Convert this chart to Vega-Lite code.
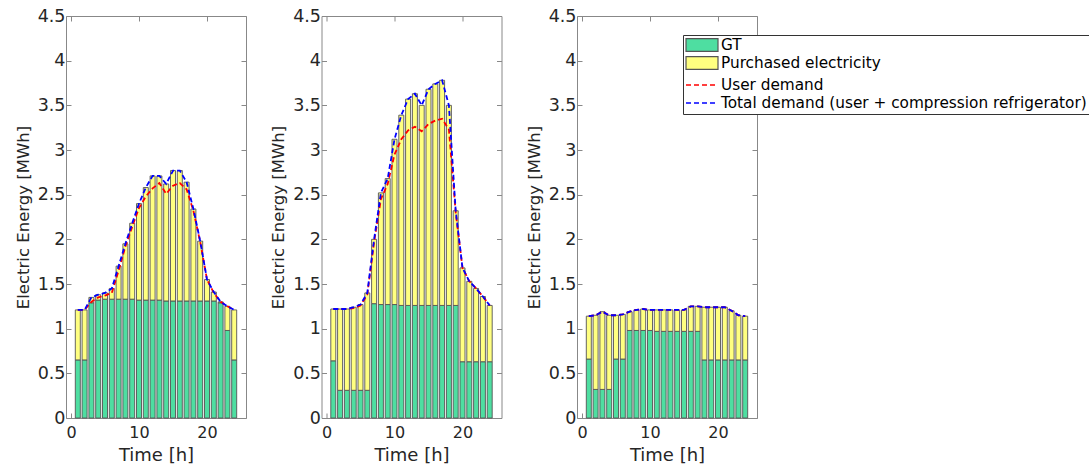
{
 "$schema": "https://vega.github.io/schema/vega-lite/v6.json",
 "padding": {"left": 14, "top": 6, "right": 0, "bottom": 0},
 "config": {
  "view": {"stroke": "#888", "strokeWidth": 1},
  "font": "DejaVu Sans",
  "axis": {"labelFont": "DejaVu Sans", "titleFont": "DejaVu Sans", "labelColor": "#262626", "titleColor": "#262626", "grid": false, "domain": false, "tickColor": "#888", "titleFontWeight": "normal", "labelFlush": false},
  "axisLeft": {"labelFontSize": 17.5, "titleFontSize": 16.5, "tickSize": -5, "labelPadding": 6, "titlePadding": 6},
  "axisBottom": {"labelFontSize": 16, "titleFontSize": 18, "tickSize": -5, "labelPadding": 11, "titlePadding": 6},
  "axisRight": {"labels": false, "tickSize": -5},
  "axisTop": {"labels": false, "tickSize": -5},
  "legend": {"orient": "none", "legendX": 617, "legendY": 19, "labelFont": "DejaVu Sans", "labelFontSize": 15.3, "labelColor": "#000", "labelLimit": 600, "symbolSize": 256, "labelOffset": 18, "padding": 2, "rowPadding": -1, "cornerRadius": 0}
 },
 "datasets": {
  "d": [
   {"p":1,"h":1,"gt":0.65,"total":1.21,"user":1.21},
   {"p":1,"h":2,"gt":0.65,"total":1.21,"user":1.21},
   {"p":1,"h":3,"gt":1.29,"total":1.35,"user":1.30},
   {"p":1,"h":4,"gt":1.32,"total":1.38,"user":1.35},
   {"p":1,"h":5,"gt":1.33,"total":1.40,"user":1.37},
   {"p":1,"h":6,"gt":1.33,"total":1.45,"user":1.40},
   {"p":1,"h":7,"gt":1.33,"total":1.70,"user":1.65},
   {"p":1,"h":8,"gt":1.33,"total":1.95,"user":1.92},
   {"p":1,"h":9,"gt":1.33,"total":2.18,"user":2.14},
   {"p":1,"h":10,"gt":1.32,"total":2.40,"user":2.35},
   {"p":1,"h":11,"gt":1.32,"total":2.58,"user":2.48},
   {"p":1,"h":12,"gt":1.32,"total":2.71,"user":2.57},
   {"p":1,"h":13,"gt":1.32,"total":2.71,"user":2.63},
   {"p":1,"h":14,"gt":1.31,"total":2.62,"user":2.51},
   {"p":1,"h":15,"gt":1.31,"total":2.77,"user":2.60},
   {"p":1,"h":16,"gt":1.31,"total":2.77,"user":2.63},
   {"p":1,"h":17,"gt":1.31,"total":2.64,"user":2.56},
   {"p":1,"h":18,"gt":1.31,"total":2.34,"user":2.32},
   {"p":1,"h":19,"gt":1.31,"total":1.98,"user":1.97},
   {"p":1,"h":20,"gt":1.31,"total":1.55,"user":1.55},
   {"p":1,"h":21,"gt":1.31,"total":1.41,"user":1.40},
   {"p":1,"h":22,"gt":1.29,"total":1.30,"user":1.30},
   {"p":1,"h":23,"gt":0.98,"total":1.25,"user":1.25},
   {"p":1,"h":24,"gt":0.65,"total":1.21,"user":1.21},
   {"p":2,"h":1,"gt":0.64,"total":1.22,"user":1.22},
   {"p":2,"h":2,"gt":0.31,"total":1.22,"user":1.22},
   {"p":2,"h":3,"gt":0.31,"total":1.22,"user":1.22},
   {"p":2,"h":4,"gt":0.31,"total":1.24,"user":1.23},
   {"p":2,"h":5,"gt":0.31,"total":1.27,"user":1.26},
   {"p":2,"h":6,"gt":0.31,"total":1.40,"user":1.38},
   {"p":2,"h":7,"gt":1.28,"total":2.00,"user":1.97},
   {"p":2,"h":8,"gt":1.27,"total":2.52,"user":2.45},
   {"p":2,"h":9,"gt":1.27,"total":2.68,"user":2.62},
   {"p":2,"h":10,"gt":1.27,"total":3.12,"user":2.95},
   {"p":2,"h":11,"gt":1.26,"total":3.39,"user":3.12},
   {"p":2,"h":12,"gt":1.26,"total":3.57,"user":3.22},
   {"p":2,"h":13,"gt":1.26,"total":3.63,"user":3.26},
   {"p":2,"h":14,"gt":1.26,"total":3.50,"user":3.21},
   {"p":2,"h":15,"gt":1.26,"total":3.68,"user":3.29},
   {"p":2,"h":16,"gt":1.26,"total":3.74,"user":3.33},
   {"p":2,"h":17,"gt":1.26,"total":3.78,"user":3.35},
   {"p":2,"h":18,"gt":1.26,"total":3.50,"user":3.23},
   {"p":2,"h":19,"gt":1.26,"total":2.32,"user":2.30},
   {"p":2,"h":20,"gt":0.63,"total":1.68,"user":1.68},
   {"p":2,"h":21,"gt":0.63,"total":1.53,"user":1.53},
   {"p":2,"h":22,"gt":0.63,"total":1.45,"user":1.45},
   {"p":2,"h":23,"gt":0.63,"total":1.36,"user":1.36},
   {"p":2,"h":24,"gt":0.63,"total":1.26,"user":1.26},
   {"p":3,"h":1,"gt":0.66,"total":1.14,"user":1.14},
   {"p":3,"h":2,"gt":0.32,"total":1.15,"user":1.15},
   {"p":3,"h":3,"gt":0.32,"total":1.19,"user":1.19},
   {"p":3,"h":4,"gt":0.32,"total":1.15,"user":1.15},
   {"p":3,"h":5,"gt":0.66,"total":1.15,"user":1.15},
   {"p":3,"h":6,"gt":0.66,"total":1.16,"user":1.16},
   {"p":3,"h":7,"gt":0.98,"total":1.19,"user":1.19},
   {"p":3,"h":8,"gt":0.98,"total":1.21,"user":1.21},
   {"p":3,"h":9,"gt":0.98,"total":1.22,"user":1.22},
   {"p":3,"h":10,"gt":0.98,"total":1.21,"user":1.21},
   {"p":3,"h":11,"gt":0.97,"total":1.21,"user":1.21},
   {"p":3,"h":12,"gt":0.97,"total":1.21,"user":1.21},
   {"p":3,"h":13,"gt":0.97,"total":1.21,"user":1.21},
   {"p":3,"h":14,"gt":0.97,"total":1.21,"user":1.21},
   {"p":3,"h":15,"gt":0.97,"total":1.21,"user":1.21},
   {"p":3,"h":16,"gt":0.97,"total":1.25,"user":1.25},
   {"p":3,"h":17,"gt":0.97,"total":1.25,"user":1.25},
   {"p":3,"h":18,"gt":0.65,"total":1.24,"user":1.24},
   {"p":3,"h":19,"gt":0.65,"total":1.24,"user":1.24},
   {"p":3,"h":20,"gt":0.65,"total":1.24,"user":1.24},
   {"p":3,"h":21,"gt":0.65,"total":1.24,"user":1.24},
   {"p":3,"h":22,"gt":0.65,"total":1.20,"user":1.20},
   {"p":3,"h":23,"gt":0.65,"total":1.15,"user":1.15},
   {"p":3,"h":24,"gt":0.65,"total":1.14,"user":1.14}
  ]
 },
 "spacing": 22.5,
 "resolve": {"scale": {"fill": "shared", "stroke": "shared"}, "legend": {"fill": "shared", "stroke": "shared"}},
 "hconcat": [
  {
   "width": 180, "height": 402,
   "data": {"name": "d"},
   "transform": [{"filter": "datum.p == 1"}],
   "layer": [
    {"mark": {"type": "bar", "width": 5, "stroke": "#555", "strokeWidth": 0.9},
     "encoding": {
      "x": {"field": "h", "type": "quantitative", "scale": {"domain": [0, 25], "nice": false}, "axis": {"title": "Time [h]", "values": [0, 10, 20]}},
      "y": {"field": "gt", "type": "quantitative", "stack": null, "scale": {"domain": [0, 4.5], "nice": false}, "axis": {"title": "Electric Energy [MWh]", "values": [0, 0.5, 1, 1.5, 2, 2.5, 3, 3.5, 4, 4.5], "format": "~g"}},
      "fill": {"datum": "GT", "scale": {"domain": ["GT", "Purchased electricity"], "range": ["#4EDEA1", "#FFFF80"]},
       "legend": {"title": null, "legendY": 18, "symbolType": "M-1,-0.8H3V0.8H-1Z", "symbolStrokeColor": "#555", "symbolStrokeWidth": 1.2, "zindex": 2}}
     }},
    {"mark": {"type": "bar", "width": 5, "stroke": "#555", "strokeWidth": 0.9},
     "encoding": {
      "x": {"field": "h", "type": "quantitative", "axis": null},
      "y": {"field": "gt", "type": "quantitative", "axis": null},
      "y2": {"field": "total"},
      "fill": {"datum": "Purchased electricity", "legend": null}
     }},
    {"mark": {"type": "line", "strokeDash": [5, 3], "strokeWidth": 1.8},
     "encoding": {
      "x": {"field": "h", "type": "quantitative", "axis": null},
      "y": {"field": "user", "type": "quantitative", "axis": null},
      "stroke": {"datum": "User demand", "scale": {"domain": ["User demand", "Total demand (user + compression refrigerator)"], "range": ["#FF0000", "#0000FF"]},
       "legend": {"title": [" ", " "], "titleFontSize": 15.3, "titleLineHeight": 18.4, "titlePadding": 5.3, "symbolType": "M-1,0H3", "symbolDash": [5, 3], "symbolStrokeWidth": 1.6, "strokeColor": "#333", "fillColor": "#fff", "zindex": 1}}
     }},
    {"mark": {"type": "line", "strokeDash": [5, 3], "strokeWidth": 1.8},
     "encoding": {
      "x": {"field": "h", "type": "quantitative", "axis": {"orient": "top", "values": [0, 10, 20], "title": null}},
      "y": {"field": "total", "type": "quantitative", "axis": {"orient": "right", "values": [0, 0.5, 1, 1.5, 2, 2.5, 3, 3.5, 4, 4.5], "title": null}},
      "stroke": {"datum": "Total demand (user + compression refrigerator)", "legend": null}
     }}
   ],
   "resolve": {"axis": {"x": "independent", "y": "independent"}}
  },
  {
   "width": 180, "height": 402,
   "data": {"name": "d"},
   "transform": [{"filter": "datum.p == 2"}],
   "layer": [
    {"mark": {"type": "bar", "width": 5, "stroke": "#555", "strokeWidth": 0.9},
     "encoding": {
      "x": {"field": "h", "type": "quantitative", "scale": {"domain": [0, 25], "nice": false}, "axis": {"title": "Time [h]", "values": [0, 10, 20]}},
      "y": {"field": "gt", "type": "quantitative", "stack": null, "scale": {"domain": [0, 4.5], "nice": false}, "axis": {"title": "Electric Energy [MWh]", "values": [0, 0.5, 1, 1.5, 2, 2.5, 3, 3.5, 4, 4.5], "format": "~g"}},
      "fill": {"datum": "GT", "legend": null}
     }},
    {"mark": {"type": "bar", "width": 5, "stroke": "#555", "strokeWidth": 0.9},
     "encoding": {
      "x": {"field": "h", "type": "quantitative", "axis": null},
      "y": {"field": "gt", "type": "quantitative", "axis": null},
      "y2": {"field": "total"},
      "fill": {"datum": "Purchased electricity", "legend": null}
     }},
    {"mark": {"type": "line", "strokeDash": [5, 3], "strokeWidth": 1.8},
     "encoding": {
      "x": {"field": "h", "type": "quantitative", "axis": null},
      "y": {"field": "user", "type": "quantitative", "axis": null},
      "stroke": {"datum": "User demand", "legend": null}
     }},
    {"mark": {"type": "line", "strokeDash": [5, 3], "strokeWidth": 1.8},
     "encoding": {
      "x": {"field": "h", "type": "quantitative", "axis": {"orient": "top", "values": [0, 10, 20], "title": null}},
      "y": {"field": "total", "type": "quantitative", "axis": {"orient": "right", "values": [0, 0.5, 1, 1.5, 2, 2.5, 3, 3.5, 4, 4.5], "title": null}},
      "stroke": {"datum": "Total demand (user + compression refrigerator)", "legend": null}
     }}
   ],
   "resolve": {"axis": {"x": "independent", "y": "independent"}}
  },
  {
   "width": 180, "height": 402,
   "data": {"name": "d"},
   "transform": [{"filter": "datum.p == 3"}],
   "layer": [
    {"mark": {"type": "bar", "width": 5, "stroke": "#555", "strokeWidth": 0.9},
     "encoding": {
      "x": {"field": "h", "type": "quantitative", "scale": {"domain": [0, 25], "nice": false}, "axis": {"title": "Time [h]", "values": [0, 10, 20]}},
      "y": {"field": "gt", "type": "quantitative", "stack": null, "scale": {"domain": [0, 4.5], "nice": false}, "axis": {"title": "Electric Energy [MWh]", "values": [0, 0.5, 1, 1.5, 2, 2.5, 3, 3.5, 4, 4.5], "format": "~g"}},
      "fill": {"datum": "GT", "legend": null}
     }},
    {"mark": {"type": "bar", "width": 5, "stroke": "#555", "strokeWidth": 0.9},
     "encoding": {
      "x": {"field": "h", "type": "quantitative", "axis": null},
      "y": {"field": "gt", "type": "quantitative", "axis": null},
      "y2": {"field": "total"},
      "fill": {"datum": "Purchased electricity", "legend": null}
     }},
    {"mark": {"type": "line", "strokeDash": [5, 3], "strokeWidth": 1.8},
     "encoding": {
      "x": {"field": "h", "type": "quantitative", "axis": null},
      "y": {"field": "user", "type": "quantitative", "axis": null},
      "stroke": {"datum": "User demand", "legend": null}
     }},
    {"mark": {"type": "line", "strokeDash": [5, 3], "strokeWidth": 1.8},
     "encoding": {
      "x": {"field": "h", "type": "quantitative", "axis": {"orient": "top", "values": [0, 10, 20], "title": null}},
      "y": {"field": "total", "type": "quantitative", "axis": {"orient": "right", "values": [0, 0.5, 1, 1.5, 2, 2.5, 3, 3.5, 4, 4.5], "title": null}},
      "stroke": {"datum": "Total demand (user + compression refrigerator)", "legend": null}
     }}
   ],
   "resolve": {"axis": {"x": "independent", "y": "independent"}}
  }
 ]
}
